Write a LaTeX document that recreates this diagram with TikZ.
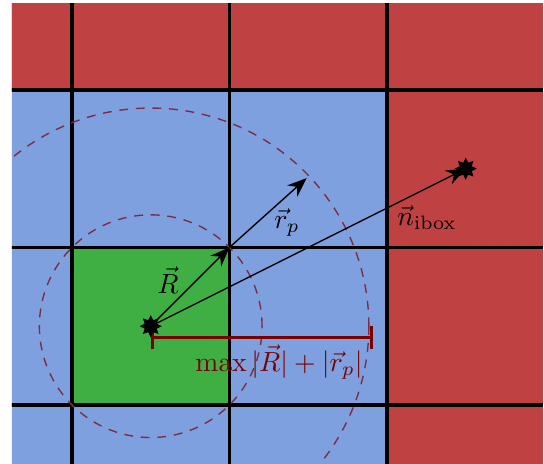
\documentclass[tikz,border=0pt]{standalone}
\usepackage{tikz}
\usetikzlibrary{arrows.meta, shapes.geometric}
\definecolor{cellred}{HTML}{C04141}
\definecolor{cellblue}{HTML}{7FA0DF}
\definecolor{cellgreen}{HTML}{40AF43}
\definecolor{ringcol}{HTML}{7A2E45}
\definecolor{barcol}{HTML}{7A0000}
\tikzset{
  gridln/.style={draw=black, line width=1.2pt},
  ring/.style={draw=ringcol, dash pattern=on 3.2pt off 2.8pt, line width=0.5pt},
  vec/.style={-{Stealth[length=7pt, width=5.5pt]}, draw=black, line width=0.5pt},
  starmark/.style={star, star points=8, star point ratio=1.7, fill=black, inner sep=0pt, minimum size=8pt},
  spanbar/.style={{Bar[width=8.5pt]}-{Bar[width=8.5pt]}, draw=barcol, line width=1.1pt}
}

\begin{document}
\begin{tikzpicture}[x=2cm, y=2cm]
\useasboundingbox (-0.457,-0.375) rectangle (2.997,2.571);
\coordinate (ctr) at (0.5,0.5);
\coordinate (corner) at (1,1);
\coordinate (rptip) at (1.49,1.44);
\coordinate (ibox) at (2.5,1.5);
\coordinate (spanL) at (0.5,0.427);
\coordinate (spanR) at (1.914,0.427);
\begin{scope}
\clip (-0.381,-0.375) rectangle (2.99,2.546);
% cells
\fill[cellblue] (-1,-1) rectangle (4,4);
\fill[cellred] (-1,2) rectangle (4,4);
\fill[cellred] (2,-1) rectangle (4,4);
\fill[cellgreen] (0,0) rectangle (1,1);
\foreach \k in {0,1,2} {
  \draw[gridln] (\k,-1) -- (\k,4);
  \draw[gridln] (-1,\k) -- (4,\k);
}
% search radii
\draw[ring] (ctr) circle[radius=0.707];
\draw[ring] (ctr) circle[radius=1.385];
\end{scope}
\draw[vec] (ctr) -- (corner);
\draw[vec] (corner) -- (rptip);
\draw[vec] (ctr) -- (ibox);
\draw[spanbar] (spanL) -- (spanR);
\node[starmark] (ctrmark) at (ctr) {};
\node[starmark] (iboxmark) at (ibox) {};
\node (lblR) at (0.61,0.79) {$\vec{R}$};
\node (lblrp) at (1.365,1.156) {$\vec{r}_p$};
\node (lbln) at (2.254,1.187) {$\vec{n}_{\mathrm{ibox}}$};
\node[text=barcol] (lblmax) at (1.314,0.273) {$\max|\vec{R}|+|\vec{r}_p|$};
\end{tikzpicture}
\end{document}
